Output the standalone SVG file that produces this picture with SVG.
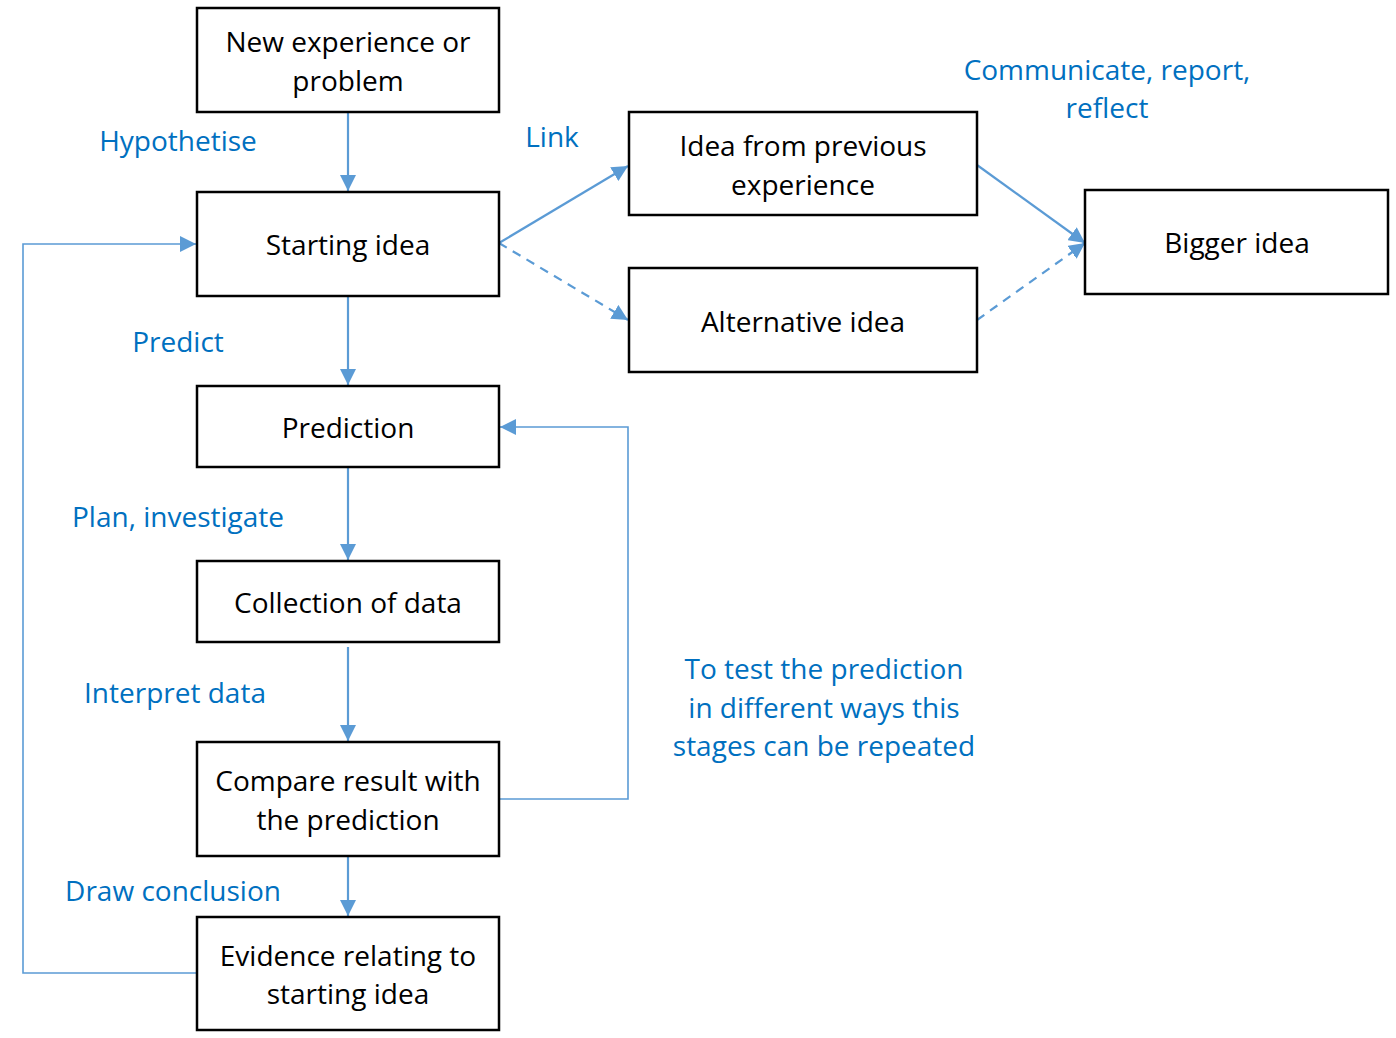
<svg xmlns="http://www.w3.org/2000/svg" width="1396" height="1038" viewBox="0 0 1396 1038">
<style>
.box{fill:#fff;stroke:#000;stroke-width:2.5}
.t{font-family:"Open Sans","Noto Sans",sans-serif;font-size:28px;fill:#000;text-anchor:middle;dominant-baseline:central}
.l{font-family:"Open Sans","Noto Sans",sans-serif;font-size:28px;fill:#0070C0;text-anchor:middle;dominant-baseline:central}
.c{fill:none;stroke:#5B9BD5;stroke-width:2.2}
.thin{fill:none;stroke:#5B9BD5;stroke-width:1.6}
.d{stroke-dasharray:9 7}
</style>
<defs>
<marker id="a" viewBox="0 0 16 16" refX="16" refY="8" markerWidth="16" markerHeight="16" markerUnits="userSpaceOnUse" orient="auto">
<path d="M0,0 L16,8 L0,16 z" fill="#5B9BD5"/>
</marker>
</defs>
<g id="connectors">
<line class="c" x1="348" y1="112" x2="348" y2="191" marker-end="url(#a)"/>
<line class="c" x1="348" y1="296" x2="348" y2="385" marker-end="url(#a)"/>
<line class="c" x1="348" y1="467" x2="348" y2="560" marker-end="url(#a)"/>
<line class="c" x1="348" y1="647" x2="348" y2="741" marker-end="url(#a)"/>
<line class="c" x1="348" y1="856" x2="348" y2="916" marker-end="url(#a)"/>
<polyline class="thin" points="197,973 23,973 23,244 196,244" marker-end="url(#a)"/>
<polyline class="thin" points="499,799 628,799 628,427 500,427" marker-end="url(#a)"/>
<line class="c" x1="499" y1="243" x2="628" y2="166" marker-end="url(#a)"/>
<line class="c d" x1="499" y1="243" x2="628" y2="320" marker-end="url(#a)"/>
<line class="c" x1="977" y1="165" x2="1085" y2="243" marker-end="url(#a)"/>
<line class="c d" x1="977" y1="320" x2="1085" y2="243" marker-end="url(#a)"/>
</g>
<g id="n1"><rect class="box" x="197" y="8" width="302" height="104"/><text class="t" x="348" y="41">New experience or</text><text class="t" x="348" y="80">problem</text></g>
<g id="n2"><rect class="box" x="197" y="192" width="302" height="104"/><text class="t" x="348" y="244">Starting idea</text></g>
<g id="n3"><rect class="box" x="197" y="386" width="302" height="81"/><text class="t" x="348" y="427">Prediction</text></g>
<g id="n4"><rect class="box" x="197" y="561" width="302" height="81"/><text class="t" x="348" y="602">Collection of data</text></g>
<g id="n5"><rect class="box" x="197" y="742" width="302" height="114"/><text class="t" x="348" y="780">Compare result with</text><text class="t" x="348" y="819">the prediction</text></g>
<g id="n6"><rect class="box" x="197" y="917" width="302" height="113"/><text class="t" x="348" y="955">Evidence relating to</text><text class="t" x="348" y="993">starting idea</text></g>
<g id="n7"><rect class="box" x="629" y="112" width="348" height="103"/><text class="t" x="803" y="145">Idea from previous</text><text class="t" x="803" y="184">experience</text></g>
<g id="n8"><rect class="box" x="629" y="268" width="348" height="104"/><text class="t" x="803" y="321">Alternative idea</text></g>
<g id="n9"><rect class="box" x="1085" y="190" width="303" height="104"/><text class="t" x="1237" y="242">Bigger idea</text></g>
<g id="labels">
<text class="l" x="178" y="140">Hypothetise</text>
<text class="l" x="552" y="136">Link</text>
<text class="l" x="178" y="341">Predict</text>
<text class="l" x="178" y="516">Plan, investigate</text>
<text class="l" x="175" y="692">Interpret data</text>
<text class="l" x="173" y="890">Draw conclusion</text>
<text class="l" x="1107" y="69">Communicate, report,</text>
<text class="l" x="1107" y="107">reflect</text>
<text class="l" x="824" y="668">To test the prediction</text>
<text class="l" x="824" y="707">in different ways this</text>
<text class="l" x="824" y="745">stages can be repeated</text>
</g>
</svg>
